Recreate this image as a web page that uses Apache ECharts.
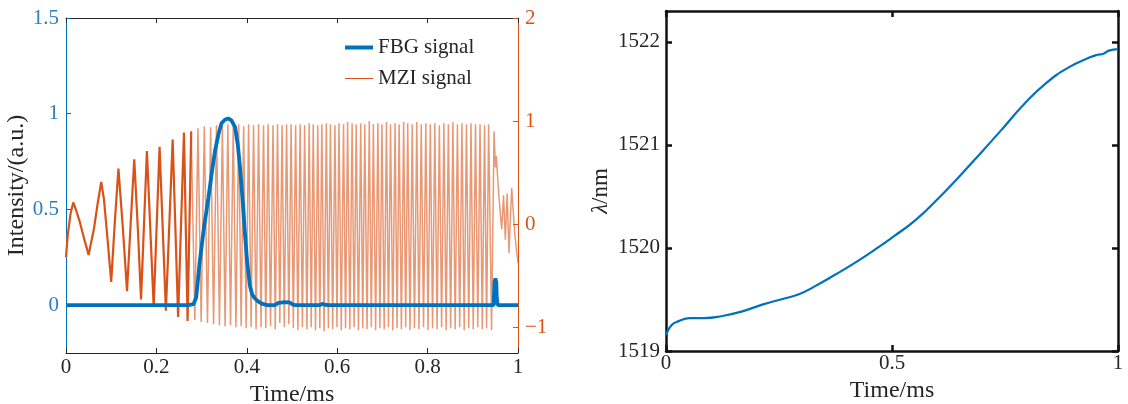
<!DOCTYPE html>
<html>
<head>
<meta charset="utf-8">
<script src="https://cdn.jsdelivr.net/npm/echarts@6/dist/echarts.min.js"></script>
<style>
html,body{margin:0;padding:0;background:#fff;}
#c{width:1128px;height:404px;}
</style>
</head>
<body>
<div id="c"></div>
<script>
// ---- data ----
const fbgSignal = [
  [0,0],[0.270,0],[0.282,0.005],[0.288,0.04],[0.296,0.23],[0.305,0.40],[0.315,0.56],[0.323,0.70],[0.330,0.81],[0.337,0.89],[0.344,0.95],[0.352,0.97],[0.359,0.975],[0.366,0.965],[0.374,0.93],[0.380,0.84],[0.385,0.72],[0.391,0.54],[0.396,0.37],[0.401,0.22],[0.407,0.10],[0.412,0.055],[0.418,0.035],[0.425,0.02],[0.433,0.008],[0.445,0],[0.462,0],[0.470,0.012],[0.480,0.015],[0.495,0.014],[0.502,0.003],[0.508,0],[0.562,0],[0.567,0.007],[0.573,0.002],[0.580,0],
  [0.946,0],[0.948,0.12],[0.950,0.14],[0.952,0.12],[0.953,0.04],[0.955,0],[1,0]
];
const mziEarly = [
  [0.000,-0.32],[0.004,-0.10],[0.010,0.10],[0.016,0.21],[0.022,0.14],[0.030,0.03],[0.040,-0.14],[0.050,-0.30],[0.054,-0.30],[0.062,-0.04],[0.070,0.20],[0.078,0.41],[0.084,0.24],[0.092,-0.15],[0.100,-0.56],[0.108,0.02],[0.116,0.54],[0.126,-0.05],[0.135,-0.65],[0.143,0.00],[0.151,0.63],[0.159,-0.05],[0.166,-0.73],[0.179,0.71],[0.194,-0.80],[0.207,0.75],[0.221,-0.84],[0.236,0.82],[0.248,-0.90],[0.261,0.89],[0.269,-0.94],[0.277,0.90]
];
const mziSignal = [
  [0.277,0.90],[0.285,-0.93],[0.292,0.93],[0.299,-0.95],[0.306,0.95],[0.313,-0.96],[0.320,0.94],[0.3265,-0.97],[0.333,0.96],[0.3395,-0.98],
  [0.346,0.95],[0.352,-0.99],[0.358,0.97],[0.364,-0.98],[0.370,0.96],[0.376,-1.00],[0.382,0.97],[0.3875,-0.99],[0.393,0.95],[0.3985,-1.01],
  [0.404,0.97],[0.4095,-1.00],[0.415,0.96],[0.4205,-1.02],[0.426,0.97],[0.4315,-1.00],[0.437,0.96],[0.442,-1.01],[0.447,0.97],[0.4525,-0.99],
  [0.458,0.96],[0.463,-1.02],[0.468,0.97],[0.473,-0.96],[0.478,0.96],[0.483,-1.00],[0.488,0.97],[0.493,-0.97],[0.498,0.97],[0.503,-1.01],
  [0.508,0.96],[0.513,-1.03],[0.518,0.97],[0.523,-1.00],[0.528,0.96],[0.533,-1.02],[0.538,0.98],[0.5425,-1.00],[0.547,0.97],[0.552,-1.03],
  [0.557,0.96],[0.5615,-1.01],[0.566,0.97],[0.571,-1.04],[0.576,0.98],[0.5805,-1.01],[0.585,0.97],[0.590,-1.02],[0.595,0.96],[0.5995,-1.00],
  [0.604,0.98],[0.609,-1.03],[0.614,0.97],[0.6185,-1.01],[0.623,0.99],[0.628,-1.02],[0.633,0.98],[0.6375,-1.00],[0.642,0.97],[0.647,-1.03],
  [0.652,0.98],[0.6565,-1.01],[0.661,0.97],[0.666,-1.02],[0.671,1.00],[0.6755,-1.00],[0.680,0.97],[0.685,-1.03],[0.690,0.98],[0.6945,-1.01],
  [0.699,0.97],[0.704,-1.02],[0.709,0.99],[0.7135,-1.00],[0.718,0.97],[0.723,-1.03],[0.728,0.98],[0.7325,-1.01],[0.737,0.97],[0.742,-1.02],
  [0.747,0.99],[0.7515,-1.00],[0.756,0.98],[0.761,-1.03],[0.766,0.97],[0.771,-1.01],[0.776,0.99],[0.781,-1.02],[0.786,0.97],[0.791,-1.00],
  [0.796,0.98],[0.801,-1.03],[0.806,0.97],[0.811,-1.01],[0.816,0.98],[0.821,-1.02],[0.826,0.96],[0.831,-1.00],[0.836,0.98],[0.841,-1.03],
  [0.846,0.97],[0.851,-1.01],[0.856,0.99],[0.861,-1.02],[0.866,0.97],[0.871,-1.00],[0.876,0.98],[0.881,-1.03],[0.886,0.97],[0.891,-1.01],
  [0.896,0.98],[0.901,-1.02],[0.906,0.97],[0.911,-1.00],[0.916,0.97],[0.921,-1.02],[0.926,0.96],[0.9305,-1.01],[0.935,0.97],[0.9415,-1.03],
  [0.947,0.90],[0.950,0.55],[0.952,0.66],[0.956,0.38],[0.960,0.15],[0.964,-0.05],[0.968,0.28],[0.972,-0.15],[0.976,0.30],[0.980,-0.28],
  [0.986,0.35],[0.993,-0.10],[1.000,-0.38]
];
const wavelength = [
  [0,1519.155],[0.012,1519.25],[0.028,1519.29],[0.052,1519.32],[0.085,1519.32],[0.125,1519.34],[0.165,1519.38],[0.213,1519.45],[0.262,1519.51],[0.294,1519.55],
  [0.326,1519.62],[0.374,1519.74],[0.423,1519.87],[0.471,1520.01],[0.503,1520.11],[0.552,1520.27],[0.600,1520.47],[0.648,1520.69],[0.696,1520.92],[0.745,1521.16],
  [0.793,1521.40],[0.841,1521.60],[0.890,1521.75],[0.938,1521.85],[0.955,1521.875],[0.968,1521.885],[0.980,1521.915],[1.0,1521.93]
];
const leftTicks = [0, 0.5, 1, 1.5];
const mziTicks = [-1, 0, 1, 2];
const lambdaTicks = [1519, 1520, 1521, 1522];

// ---- chart ----
const FONT = '"Liberation Serif","DejaVu Serif",serif';
const BLUE = '#0072BD', ORANGE = '#D95319', DARK = '#262626';
const chart = echarts.init(document.getElementById('c'), null, {renderer:'canvas'});
const lbl = (color, size) => ({color, fontFamily: FONT, fontSize: size || 21});
const plain = v => String(v);

chart.setOption({
  animation: false,
  backgroundColor: '#fff',
  grid: [
    {left: 66, right: 610, top: 18, bottom: 51, containLabel: false, outerBoundsMode: 'none'},
    {left: 666, right: 10, top: 11, bottom: 53, containLabel: false, outerBoundsMode: 'none'}
  ],
  legend: {
    orient: 'vertical', left: 340, top: 32, itemWidth: 28, itemHeight: 14, itemGap: 10,
    textStyle: {fontFamily: FONT, fontSize: 21, color: DARK},
    data: [
      {name: 'FBG signal', icon: 'path://M0,0H28V0.01H0Z M0,5H28V9H0Z M0,13.99H28V14H0Z'},
      {name: 'MZI signal', icon: 'path://M0,0H28V0.01H0Z M0,6.5H28V7.5H0Z M0,13.99H28V14H0Z'}
    ]
  },
  xAxis: [
    {gridIndex: 0, type: 'value', min: 0, max: 1, interval: 0.2, position: 'bottom',
     axisLine: {onZero: false, lineStyle: {color: DARK, width: 1}}, axisTick: {inside: true, length: 5, lineStyle: {color: DARK}},
     axisLabel: {...lbl(DARK), margin: 4, formatter: plain}, splitLine: {show: false},
     name: 'Time/ms', nameLocation: 'middle', nameGap: 24, nameTextStyle: lbl(DARK, 24)},
    {gridIndex: 0, type: 'value', min: 0, max: 1, interval: 0.2, position: 'top',
     axisLine: {onZero: false, lineStyle: {color: DARK, width: 1}}, axisTick: {inside: true, length: 5, lineStyle: {color: DARK}},
     axisLabel: {show: false}, splitLine: {show: false}},
    {gridIndex: 1, type: 'value', min: 0, max: 1, interval: 0.5, position: 'bottom',
     axisLine: {onZero: false, lineStyle: {color: '#111', width: 2.5}}, axisTick: {inside: true, length: 6, lineStyle: {color: '#111', width: 2.5}},
     axisLabel: {...lbl(DARK), margin: 2, formatter: plain}, splitLine: {show: false},
     name: 'Time/ms', nameLocation: 'middle', nameGap: 22, nameTextStyle: lbl(DARK, 24)},
    {gridIndex: 1, type: 'value', min: 0, max: 1, interval: 0.5, position: 'top',
     axisLine: {onZero: false, lineStyle: {color: '#111', width: 2.5}}, axisTick: {inside: true, length: 6, lineStyle: {color: '#111', width: 2.5}},
     axisLabel: {show: false}, splitLine: {show: false}}
  ],
  yAxis: [
    {gridIndex: 0, type: 'value', min: -0.25, max: 1.5, position: 'left',
     axisLine: {show: true, onZero: false, lineStyle: {color: BLUE, width: 1}},
     axisTick: {show: true, inside: true, length: 5, lineStyle: {color: BLUE}, customValues: leftTicks},
     axisLabel: {...lbl('#2C7DC0'), margin: 7, customValues: leftTicks, formatter: plain}, splitLine: {show: false},
     name: 'Intensity/(a.u.)', nameLocation: 'middle', nameGap: 35, nameTextStyle: lbl(DARK, 24)},
    {gridIndex: 0, type: 'value', min: -1.25, max: 2, position: 'right',
     axisLine: {show: true, onZero: false, lineStyle: {color: ORANGE, width: 1}},
     axisTick: {show: true, inside: true, length: 5, lineStyle: {color: ORANGE}, customValues: mziTicks},
     axisLabel: {...lbl(ORANGE), margin: 7, customValues: mziTicks, formatter: v => v < 0 ? '\u2212' + Math.abs(v) : String(v)},
     splitLine: {show: false}},
    {gridIndex: 1, type: 'value', min: 1519, max: 1522.3, position: 'left',
     axisLine: {show: true, onZero: false, lineStyle: {color: '#111', width: 2.5}},
     axisTick: {show: true, inside: true, length: 6, lineStyle: {color: '#111', width: 2.5}, customValues: lambdaTicks},
     axisLabel: {...lbl(DARK), margin: 6, customValues: lambdaTicks, formatter: plain}, splitLine: {show: false},
     name: '{i|λ}/nm', nameLocation: 'middle', nameGap: 54,
     nameTextStyle: {...lbl(DARK, 23), padding: [0, 20, 0, 0], rich: {i: {fontFamily: FONT, fontSize: 23, fontStyle: 'italic', color: DARK}}}},
    {gridIndex: 1, type: 'value', min: 1519, max: 1522.3, position: 'right',
     axisLine: {show: true, onZero: false, lineStyle: {color: '#111', width: 2.5}},
     axisTick: {show: true, inside: true, length: 6, lineStyle: {color: '#111', width: 2.5}, customValues: lambdaTicks},
     axisLabel: {show: false}, splitLine: {show: false}}
  ],
  series: [
    {name: 'FBG signal', type: 'line', xAxisIndex: 0, yAxisIndex: 0, data: fbgSignal, symbol: 'none', z: 5,
     lineStyle: {color: BLUE, width: 3.8}, itemStyle: {color: BLUE}},
    {name: 'MZI signal', type: 'line', xAxisIndex: 0, yAxisIndex: 1, data: mziSignal, symbol: 'none', z: 3,
     lineStyle: {color: ORANGE, width: 1.5, opacity: 0.6}, itemStyle: {color: ORANGE}},
    {name: 'MZI signal', type: 'line', xAxisIndex: 0, yAxisIndex: 1, data: mziEarly, symbol: 'none', z: 3,
     lineStyle: {color: ORANGE, width: 2.2}, itemStyle: {color: ORANGE}},
    {name: 'wavelength', type: 'line', xAxisIndex: 2, yAxisIndex: 2, data: wavelength, symbol: 'none', smooth: true,
     lineStyle: {color: BLUE, width: 2.2}, itemStyle: {color: BLUE}}
  ]
});
</script>
</body>
</html>
